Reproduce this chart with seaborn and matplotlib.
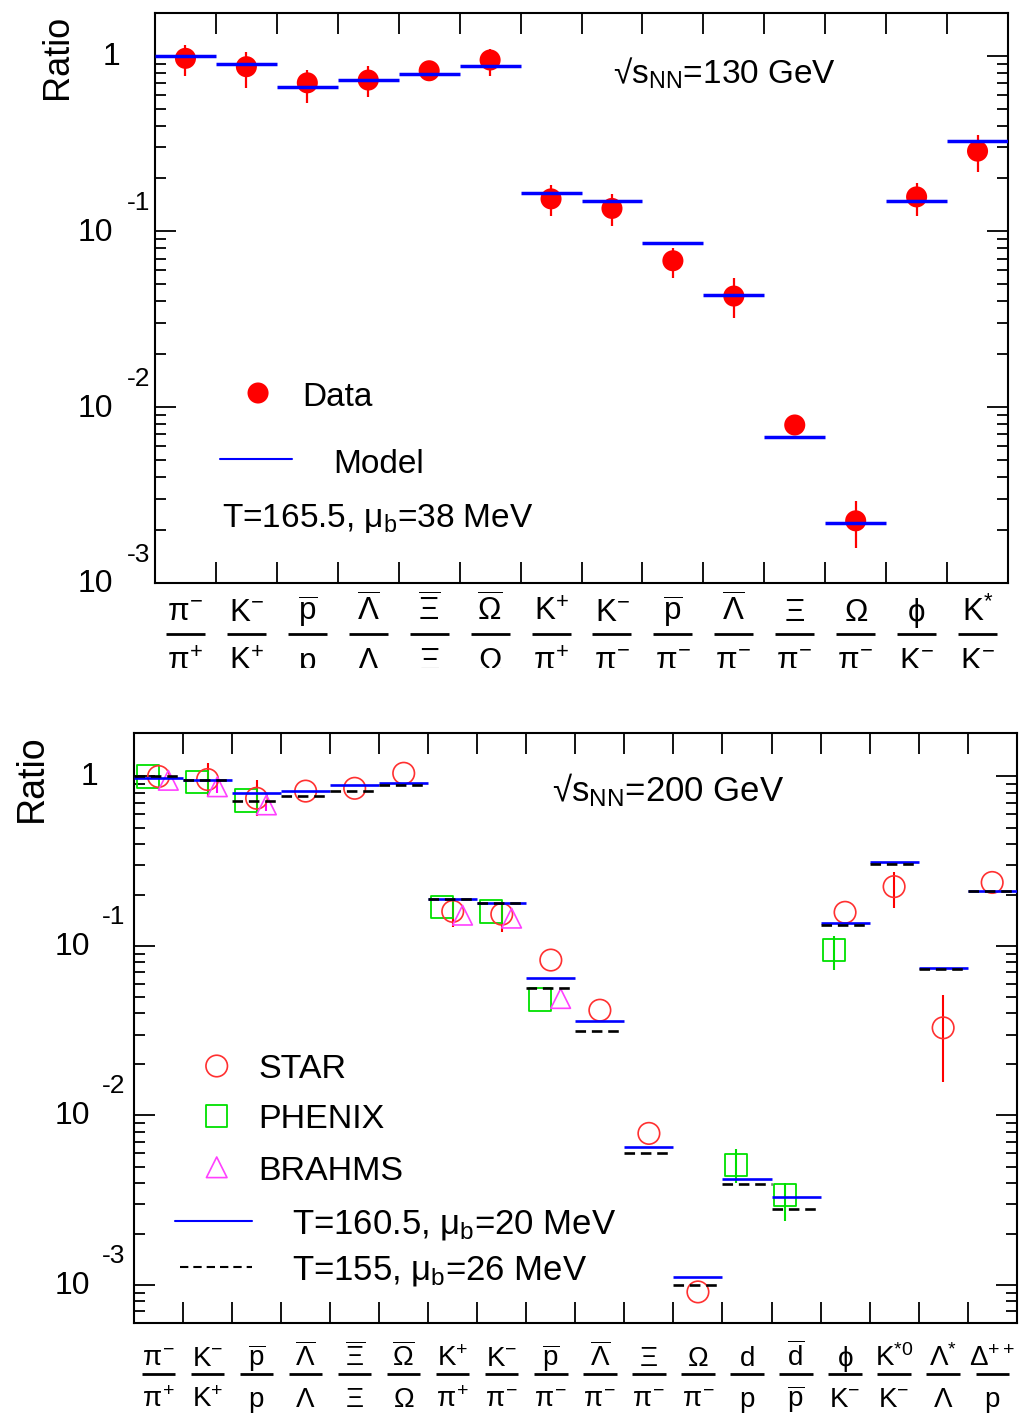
import numpy as np
import pandas as pd
import matplotlib
matplotlib.use("Agg")
import matplotlib.pyplot as plt
import seaborn as sns
from matplotlib.ticker import FixedLocator, LogLocator, NullFormatter, NullLocator
from matplotlib.transforms import blended_transform_factory, ScaledTranslation, Bbox, TransformedBbox

# ---------------- data: sqrt(s_NN) = 130 GeV ----------------
num_130 = [r"$\pi^{-}$", r"$\mathrm{K}^{-}$", r"$\overline{\mathrm{p}}$", r"$\overline{\Lambda}$",
           r"$\overline{\Xi}$", r"$\overline{\Omega}$", r"$\mathrm{K}^{+}$", r"$\mathrm{K}^{-}$",
           r"$\overline{\mathrm{p}}$", r"$\overline{\Lambda}$", r"$\Xi$", r"$\Omega$",
           r"$\phi$", r"$\mathrm{K}^{*}$"]
den_130 = [r"$\pi^{+}$", r"$\mathrm{K}^{+}$", r"$\mathrm{p}$", r"$\Lambda$", r"$\Xi$", r"$\Omega$",
           r"$\pi^{+}$", r"$\pi^{-}$", r"$\pi^{-}$", r"$\pi^{-}$", r"$\pi^{-}$", r"$\pi^{-}$",
           r"$\mathrm{K}^{-}$", r"$\mathrm{K}^{-}$"]
data_130 = [0.965, 0.865, 0.70, 0.726, 0.82, 0.944, 0.153, 0.135, 0.068, 0.0428, 0.0079, 0.00225, 0.157, 0.286]
data_130_lo = [0.765, 0.65, 0.535, 0.579, 0.78, 0.765, 0.122, 0.107, 0.054, 0.032, 0.0073, 0.00157, 0.122, 0.217]
data_130_hi = [1.15, 1.05, 0.83, 0.873, 0.86, 1.086, 0.183, 0.164, 0.080, 0.054, 0.0085, 0.0029, 0.188, 0.353]
model_130 = [1.0, 0.90, 0.665, 0.723, 0.786, 0.876, 0.165, 0.148, 0.0858, 0.0432, 0.00675, 0.00218, 0.148, 0.328]

# ---------------- data: sqrt(s_NN) = 200 GeV ----------------
num_200 = [r"$\pi^{-}$", r"$\mathrm{K}^{-}$", r"$\overline{\mathrm{p}}$", r"$\overline{\Lambda}$",
           r"$\overline{\Xi}$", r"$\overline{\Omega}$", r"$\mathrm{K}^{+}$", r"$\mathrm{K}^{-}$",
           r"$\overline{\mathrm{p}}$", r"$\overline{\Lambda}$", r"$\Xi$", r"$\Omega$",
           r"$\mathrm{d}$", r"$\overline{\mathrm{d}}$", r"$\phi$", r"$\mathrm{K}^{*0}$",
           r"$\Lambda^{*}$", r"$\Delta^{++}$"]
den_200 = [r"$\pi^{+}$", r"$\mathrm{K}^{+}$", r"$\mathrm{p}$", r"$\Lambda$", r"$\Xi$", r"$\Omega$",
           r"$\pi^{+}$", r"$\pi^{-}$", r"$\pi^{-}$", r"$\pi^{-}$", r"$\pi^{-}$", r"$\pi^{-}$",
           r"$\mathrm{p}$", r"$\overline{\mathrm{p}}$", r"$\mathrm{K}^{-}$", r"$\mathrm{K}^{-}$",
           r"$\Lambda$", r"$\mathrm{p}$"]
nan = np.nan
star_200 = [1.0, 0.96, 0.744, 0.82, 0.852, 1.045, 0.16, 0.154, 0.0826, 0.0418, 0.00784, 0.00091,
            nan, nan, 0.158, 0.224, 0.0329, 0.237]
star_200_lo = [nan, 0.76, 0.585, nan, nan, nan, 0.13, 0.121, nan, nan, nan, nan,
               nan, nan, nan, 0.167, 0.0158, nan]
star_200_hi = [nan, 1.2, 0.96, nan, nan, nan, 0.19, 0.18, nan, nan, nan, nan,
               nan, nan, nan, 0.275, 0.0514, nan]
phenix_200 = [1.0, 0.93, 0.72, nan, nan, nan, 0.170, 0.16, 0.0484, nan, nan, nan,
              0.00512, 0.0034, 0.0947, nan, nan, nan]
phenix_200_lo = [nan, nan, nan, nan, nan, nan, nan, nan, nan, nan, nan, nan,
                 0.0040, 0.0024, 0.0722, nan, nan, nan]
phenix_200_hi = [nan, nan, nan, nan, nan, nan, nan, nan, nan, nan, nan, nan,
                 0.0063, 0.0040, 0.114, nan, nan, nan]
brahms_200 = [0.95, 0.87, 0.68, nan, nan, nan, 0.152, 0.146, 0.049, nan, nan, nan,
              nan, nan, nan, nan, nan, nan]
brahms_200_lo = [nan, 0.80, 0.63, nan, nan, nan, nan, nan, nan, nan, nan, nan,
                 nan, nan, nan, nan, nan, nan]
brahms_200_hi = [nan, 0.93, 0.72, nan, nan, nan, nan, nan, nan, nan, nan, nan,
                 nan, nan, nan, nan, nan, nan]
model_200_a = [0.98, 0.953, 0.80, 0.82, 0.891, 0.92, 0.189, 0.18, 0.0645, 0.0362, 0.00655, 0.00112,
               0.00423, 0.0033, 0.137, 0.315, 0.0744, 0.211]
model_200_b = [1.0, 0.953, 0.717, 0.767, 0.82, 0.89, 0.19, 0.179, 0.0562, 0.0315, 0.0060, 0.0010,
               0.00395, 0.0028, 0.133, 0.305, 0.073, 0.21]

# ---------------- style ----------------
sns.set_theme(style="ticks")
plt.rcParams['font.family'] = ['Liberation Sans', 'DejaVu Sans']
plt.rcParams['mathtext.fontset'] = 'custom'
plt.rcParams['mathtext.rm'] = 'Liberation Sans'
plt.rcParams['mathtext.it'] = 'Liberation Sans'
plt.rcParams['mathtext.bf'] = 'Liberation Sans:bold'
plt.rcParams['mathtext.sf'] = 'Liberation Sans'
plt.rcParams['text.color'] = 'black'

W, H = 1031, 1417
fig = plt.figure(figsize=(W / 100, H / 100), dpi=100)
fig.patch.set_facecolor('white')


def px_axes(l, t, r, b):
    return fig.add_axes([l / W, 1 - b / H, (r - l) / W, (b - t) / H])


def shift(base, dx_px, dy_px):
    return base + ScaledTranslation(dx_px / 100, dy_px / 100, fig.dpi_scale_trans)


def style_axes(ax, n, ylim):
    ax.set_facecolor('white')
    ax.set_yscale('log')
    ax.set_xlim(0, n)
    ax.set_ylim(*ylim)
    ax.xaxis.set_major_locator(FixedLocator(np.arange(1, n)))
    ax.xaxis.set_minor_locator(NullLocator())
    ax.yaxis.set_major_locator(FixedLocator([1e-3, 1e-2, 1e-1, 1.0]))
    ax.yaxis.set_minor_locator(LogLocator(base=10, subs=np.arange(2, 10), numticks=30))
    ax.yaxis.set_minor_formatter(NullFormatter())
    ax.tick_params(which='both', direction='in', top=True, right=True, bottom=True, left=True,
                   labelleft=False, labelbottom=False, width=1.3, color='black')
    ax.tick_params(which='major', length=15)
    ax.tick_params(which='minor', length=8)
    for sp in ax.spines.values():
        sp.set_linewidth(1.5)
        sp.set_color('black')
    ax.set_xlabel('')
    ax.set_ylabel('')


def y_labels(ax, off_one, off_ten, off_exp, dy_ten, dy_exp, fs, fs_exp):
    base = blended_transform_factory(ax.transAxes, ax.transData)
    for k in [0, -1, -2, -3]:
        v = 10.0 ** k
        if k == 0:
            ax.text(0, v, "1", transform=shift(base, -off_one, -1), ha='right', va='center', fontsize=fs)
        else:
            ax.text(0, v, "10", transform=shift(base, -off_ten, -dy_ten), ha='right', va='center', fontsize=fs)
            ax.text(0, v, f"{k}", transform=shift(base, -off_exp, dy_exp), ha='left', va='center', fontsize=fs_exp)


def x_labels(ax, nums, dens, fs, d_num, d_bar, d_den, barw, clip=None):
    base = blended_transform_factory(ax.transData, ax.transAxes)
    for i, (nu, de) in enumerate(zip(nums, dens)):
        x = i + 0.5
        t1 = ax.text(x, 0, nu, transform=shift(base, 0, -d_num), ha='center', va='baseline', fontsize=fs)
        t2 = ax.text(x, 0, de, transform=shift(base, 0, -d_den), ha='center', va='baseline', fontsize=fs)
        ax.plot([x - barw / 2, x + barw / 2], [0, 0], transform=shift(base, 0, -d_bar),
                color='black', lw=2.0, clip_on=False, solid_capstyle='butt')
        if clip is not None:
            for t in (t1, t2):
                t.set_clip_box(clip)
                t.set_clip_on(True)


# ================= top panel: 130 GeV =================
ax1 = px_axes(155, 12.7, 1008, 582.7)
n1 = len(data_130)
x1 = np.arange(n1) + 0.5
df1 = pd.DataFrame({"x": x1, "ratio": data_130, "lo": data_130_lo, "hi": data_130_hi, "model": model_130})

ax1.vlines(df1["x"], df1["lo"], df1["hi"], color='#ff0000', lw=1.6, zorder=2)
sns.scatterplot(data=df1, x="x", y="ratio", ax=ax1, marker='o', s=230, color='#ff0000',
                edgecolor='none', linewidth=0, zorder=3, legend=False)
ax1.hlines(df1["model"], df1["x"] - 0.5, df1["x"] + 0.5, color='#0000ff', lw=2.5, zorder=4)
style_axes(ax1, n1, (1e-3, 1.755))

# legend (top)
ax1.scatter([0.1208], [0.3328], transform=ax1.transAxes, s=230, color='#ff0000', edgecolor='none', clip_on=False)
ax1.text(0.1723, 0.310, "Data", transform=ax1.transAxes, fontsize=24, va='baseline', ha='left')
ax1.plot([0.0762, 0.1606], [0.2165, 0.2165], transform=ax1.transAxes, color='#0000ff', lw=1.5)
ax1.text(0.2087, 0.193, "Model", transform=ax1.transAxes, fontsize=24, va='baseline', ha='left')
ax1.text(0.0785, 0.0982, r"T=165.5, $\mu_{\mathrm{b}}$=38 MeV", transform=ax1.transAxes,
         fontsize=24, va='baseline', ha='left')
ax1.text(0.5373, 0.8749, r"√$\mathrm{s}_{\mathrm{NN}}$=130 GeV", transform=ax1.transAxes,
         fontsize=24, va='baseline', ha='left')

y_labels(ax1, off_one=35, off_ten=42, off_exp=28, dy_ten=1.5, dy_exp=28, fs=23, fs_exp=19)
ax1.text(0, 1, "Ratio", transform=shift(ax1.transAxes, -98, -2), rotation=90,
         ha='center', va='top', fontsize=26)
clip_top = TransformedBbox(Bbox([[0, 1 - 668 / H], [1, 1]]), fig.transFigure)
x_labels(ax1, num_130, den_130, fs=22.5, d_num=38, d_bar=51.6, d_den=87.5, barw=0.64, clip=clip_top)

# ================= bottom panel: 200 GeV =================
ax2 = px_axes(134, 732.7, 1016.7, 1322.7)
n2 = len(star_200)
x2 = np.arange(n2) + 0.5
df2 = pd.DataFrame({"x": x2, "star": star_200, "star_lo": star_200_lo, "star_hi": star_200_hi,
                    "phenix": phenix_200, "phenix_lo": phenix_200_lo, "phenix_hi": phenix_200_hi,
                    "brahms": brahms_200, "brahms_lo": brahms_200_lo, "brahms_hi": brahms_200_hi,
                    "model_a": model_200_a, "model_b": model_200_b})
off_ph, off_st, off_br = -0.22, 0.0, 0.2

ax2.vlines(df2["x"] + off_st, df2["star_lo"], df2["star_hi"], color='#ff0000', lw=1.5, zorder=2)
ax2.vlines(df2["x"] + off_ph, df2["phenix_lo"], df2["phenix_hi"], color='#00e000', lw=1.5, zorder=2)
ax2.vlines(df2["x"] + off_br, df2["brahms_lo"], df2["brahms_hi"], color='#ff00ff', lw=1.5, zorder=2)

sns.scatterplot(x=df2["x"] + off_ph, y=df2["phenix"], ax=ax2, marker='s', s=260,
                facecolors='none', edgecolor='#00e000', linewidth=1.3, zorder=3, legend=False)
sns.scatterplot(x=df2["x"] + off_st, y=df2["star"], ax=ax2, marker='o', s=240,
                facecolors='none', edgecolor='#ff3030', linewidth=1.2, zorder=3, legend=False)
sns.scatterplot(x=df2["x"] + off_br, y=df2["brahms"], ax=ax2, marker='^', s=200,
                facecolors='none', edgecolor='#ff40ff', linewidth=1.2, zorder=3, legend=False)

ax2.hlines(df2["model_a"], df2["x"] - 0.5, df2["x"] + 0.5, color='#0000ff', lw=1.9, zorder=4)
ax2.hlines(df2["model_b"], df2["x"] - 0.5, df2["x"] + 0.5, color='black', lw=1.9,
           linestyles=(0, (4, 2.2)), zorder=4)
style_axes(ax2, n2, (5.99e-4, 1.813))

# legend (bottom)
ax2.scatter([0.0937], [0.4351], transform=ax2.transAxes, s=240, marker='o', facecolors='none',
            edgecolors='#ff3030', linewidths=1.2, clip_on=False)
ax2.text(0.1408, 0.4142, "STAR", transform=ax2.transAxes, fontsize=24.5, va='baseline')
ax2.scatter([0.0937], [0.3503], transform=ax2.transAxes, s=240, marker='s', facecolors='none',
            edgecolors='#00e000', linewidths=1.3, clip_on=False)
ax2.text(0.1408, 0.3295, "PHENIX", transform=ax2.transAxes, fontsize=24.5, va='baseline')
ax2.scatter([0.0937], [0.2634], transform=ax2.transAxes, s=220, marker='^', facecolors='none',
            edgecolors='#ff40ff', linewidths=1.2, clip_on=False)
ax2.text(0.1408, 0.2419, "BRAHMS", transform=ax2.transAxes, fontsize=24.5, va='baseline')
ax2.plot([0.0464, 0.1333], [0.1724, 0.1724], transform=ax2.transAxes, color='#0000ff', lw=1.5)
ax2.text(0.1786, 0.1515, r"T=160.5, $\mu_{\mathrm{b}}$=20 MeV", transform=ax2.transAxes,
         fontsize=25, va='baseline')
ax2.plot([0.0521, 0.1333], [0.0939, 0.0939], transform=ax2.transAxes, color='black', lw=1.5,
         linestyle=(0, (4, 2.4)))
ax2.text(0.1786, 0.0724, r"T=155, $\mu_{\mathrm{b}}$=26 MeV", transform=ax2.transAxes,
         fontsize=25, va='baseline')
ax2.text(0.4735, 0.8831, r"√$\mathrm{s}_{\mathrm{NN}}$=200 GeV", transform=ax2.transAxes,
         fontsize=25, va='baseline', ha='left')

y_labels(ax2, off_one=36, off_ten=44, off_exp=32, dy_ten=1, dy_exp=29, fs=23, fs_exp=19)
ax2.text(0, 1, "Ratio", transform=shift(ax2.transAxes, -102, -2), rotation=90,
         ha='center', va='top', fontsize=27)
x_labels(ax2, num_200, den_200, fs=20, d_num=43.3, d_bar=51.6, d_den=84, barw=0.68)

fig.savefig("out.png", dpi=100, facecolor='white')
